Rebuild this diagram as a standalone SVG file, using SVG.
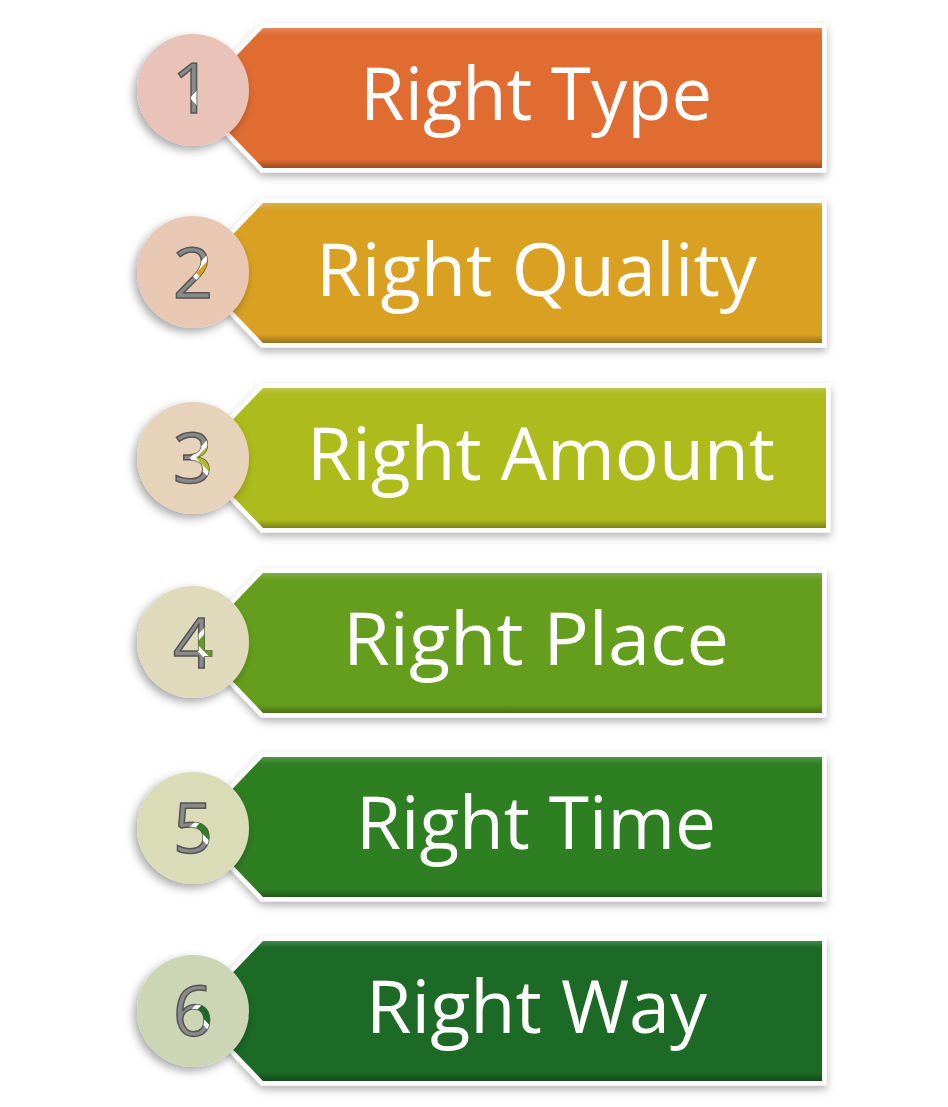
<svg xmlns="http://www.w3.org/2000/svg" xmlns:xlink="http://www.w3.org/1999/xlink" width="948" height="1107" viewBox="0 0 948 1107">
<style>
.tag{stroke:#ffffff;stroke-width:9;stroke-linejoin:miter;paint-order:stroke}
.bev{fill:url(#bevel);stroke:none}
.lbl{font-family:"Open Sans","Liberation Sans",sans-serif;font-size:73px;fill:#ffffff;text-anchor:middle}
.num{font-family:"Open Sans","Liberation Sans",sans-serif;font-size:70px;text-anchor:middle;fill:#8a8a8a;stroke:#555555;stroke-width:1.5}
.c1{fill:#E06C30}.c2{fill:#D9A020}.c3{fill:#AEBB1A}.c4{fill:#659E1E}.c5{fill:#2F7E20}.c6{fill:#1C6A25}
</style>
<defs>
<filter id="tsh" x="-10%" y="-20%" width="120%" height="150%"><feDropShadow dx="0" dy="4" stdDeviation="4" flood-color="#000" flood-opacity="0.3"/></filter>
<filter id="csh" x="-30%" y="-30%" width="160%" height="160%"><feDropShadow dx="-3" dy="4" stdDeviation="5" flood-color="#000" flood-opacity="0.35"/></filter>
<linearGradient id="bevel" x1="0" y1="0" x2="0" y2="1">
<stop offset="0" stop-color="#fff" stop-opacity="0.18"/>
<stop offset="0.05" stop-color="#fff" stop-opacity="0"/>
<stop offset="0.94" stop-color="#000" stop-opacity="0"/>
<stop offset="1" stop-color="#000" stop-opacity="0.3"/>
</linearGradient>
<path id="t1" d="M196,98 L263,28 L822,28 L822,168 L263,168 Z"/>
<path id="t2" d="M196,273 L263,203 L822,203 L822,343 L263,343 Z"/>
<path id="t3" d="M196,458 L263,388 L826,388 L826,528 L263,528 Z"/>
<path id="t4" d="M196,643 L263,573 L822,573 L822,713 L263,713 Z"/>
<path id="t5" d="M196,827 L263,757 L822,757 L822,897 L263,897 Z"/>
<path id="t6" d="M196,1011 L263,941 L822,941 L822,1081 L263,1081 Z"/>
<clipPath id="d1"><text class="num" x="192" y="113">1</text></clipPath>
<clipPath id="d2"><text class="num" x="193" y="298">2</text></clipPath>
<clipPath id="d3"><text class="num" x="193" y="483">3</text></clipPath>
<clipPath id="d4"><text class="num" x="193" y="668">4</text></clipPath>
<clipPath id="d5"><text class="num" x="193" y="853">5</text></clipPath>
<clipPath id="d6"><text class="num" x="193" y="1036">6</text></clipPath>
</defs>
<rect width="948" height="1107" fill="#ffffff"/>
<g id="node1">
<use xlink:href="#t1" class="tag c1" filter="url(#tsh)"/><use xlink:href="#t1" class="bev"/>
<text class="lbl" x="536" y="120" textLength="352" lengthAdjust="spacingAndGlyphs">Right Type</text>
<circle cx="193" cy="90" r="56" fill="#E9C2B8" filter="url(#csh)"/>
<text class="num" x="192" y="113">1</text>
<g clip-path="url(#d1)"><use xlink:href="#t1" class="tag c1"/></g>
</g>
<g id="node2">
<use xlink:href="#t2" class="tag c2" filter="url(#tsh)"/><use xlink:href="#t2" class="bev"/>
<text class="lbl" x="536.5" y="296" textLength="441" lengthAdjust="spacingAndGlyphs">Right Quality</text>
<circle cx="193" cy="272" r="56" fill="#E8C8B3" filter="url(#csh)"/>
<text class="num" x="193" y="298">2</text>
<g clip-path="url(#d2)"><use xlink:href="#t2" class="tag c2"/></g>
</g>
<g id="node3">
<use xlink:href="#t3" class="tag c3" filter="url(#tsh)"/><use xlink:href="#t3" class="bev"/>
<text class="lbl" x="541" y="480" textLength="468" lengthAdjust="spacingAndGlyphs">Right Amount</text>
<circle cx="193" cy="458" r="56" fill="#E6D3B9" filter="url(#csh)"/>
<text class="num" x="193" y="483">3</text>
<g clip-path="url(#d3)"><use xlink:href="#t3" class="tag c3"/></g>
</g>
<g id="node4">
<use xlink:href="#t4" class="tag c4" filter="url(#tsh)"/><use xlink:href="#t4" class="bev"/>
<text class="lbl" x="536" y="665" textLength="386" lengthAdjust="spacingAndGlyphs">Right Place</text>
<circle cx="193" cy="642" r="56" fill="#DFDABB" filter="url(#csh)"/>
<text class="num" x="193" y="668">4</text>
<g clip-path="url(#d4)"><use xlink:href="#t4" class="tag c4"/></g>
</g>
<g id="node5">
<use xlink:href="#t5" class="tag c5" filter="url(#tsh)"/><use xlink:href="#t5" class="bev"/>
<text class="lbl" x="536" y="849" textLength="360" lengthAdjust="spacingAndGlyphs">Right Time</text>
<circle cx="193" cy="828" r="56" fill="#DADCB8" filter="url(#csh)"/>
<text class="num" x="193" y="853">5</text>
<g clip-path="url(#d5)"><use xlink:href="#t5" class="tag c5"/></g>
</g>
<g id="node6">
<use xlink:href="#t6" class="tag c6" filter="url(#tsh)"/><use xlink:href="#t6" class="bev"/>
<text class="lbl" x="536.5" y="1033" textLength="341" lengthAdjust="spacingAndGlyphs">Right Way</text>
<circle cx="193" cy="1011" r="56" fill="#CCD6B4" filter="url(#csh)"/>
<text class="num" x="193" y="1036">6</text>
<g clip-path="url(#d6)"><use xlink:href="#t6" class="tag c6"/></g>
</g>
<g id="connectors"></g>
</svg>
